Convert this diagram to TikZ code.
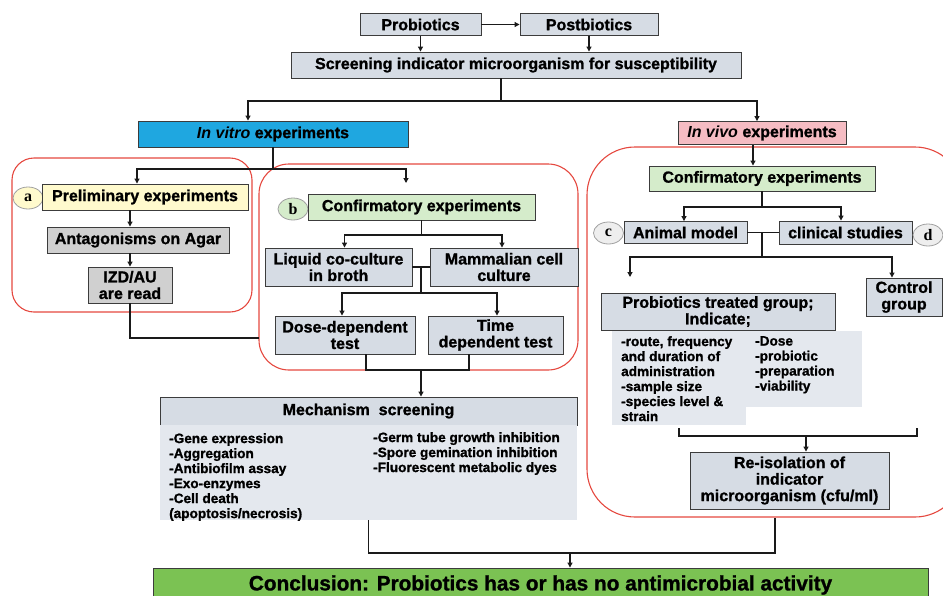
\documentclass[tikz,border=0pt]{standalone}
\usepackage{fontspec}
\setmainfont{Liberation Sans}[BoldFeatures={FakeBold=1.2}]
\newfontfamily\labfont{Liberation Serif}
\usetikzlibrary{shapes.geometric,arrows.meta}
\definecolor{boxgray}{HTML}{D6DCE4}
\definecolor{listgray}{HTML}{E4E8EE}
\definecolor{edgegray}{HTML}{3C3C3C}
\definecolor{linkgray}{HTML}{1A1A1A}
\definecolor{vitroblue}{HTML}{1FA7E0}
\definecolor{vivopink}{HTML}{F5BCC3}
\definecolor{confgreen}{HTML}{D5ECCB}
\definecolor{prelimyellow}{HTML}{FFFACD}
\definecolor{agargray}{HTML}{D0D0D0}
\definecolor{framered}{HTML}{E5483F}
\definecolor{conclgreen}{HTML}{7BC253}
\definecolor{taggray}{HTML}{A0A0A0}
\definecolor{tagfill}{HTML}{EEEEEE}
\tikzset{
  box/.style 2 args={draw=edgegray, line width=0.9pt, fill=boxgray, inner sep=0pt, align=center,
    minimum width=#1, minimum height=#2, font=\bfseries\fontsize{16}{16.5}\selectfont},
  grp/.style n args={3}{draw=framered, line width=1.1pt, rounded corners=#3, inner sep=0pt,
    minimum width=#1, minimum height=#2},
  tag/.style={ellipse, draw=taggray, line width=0.8pt, inner sep=0pt, minimum width=30,
    minimum height=22, font=\labfont\bfseries\fontsize{16}{16}\selectfont},
  pane/.style 2 args={fill=listgray, inner sep=0pt, minimum width=#1, minimum height=#2},
  lst/.style={anchor=north west, inner sep=0pt, align=left, font=\bfseries\fontsize{13.6}{15}\selectfont},
  link/.style={draw=linkgray, line width=1.1pt},
  arr/.style={link, -{Triangle[length=5pt,width=5pt]}},
}
\begin{document}
\begin{tikzpicture}[x=1pt,y=-1pt]
	\useasboundingbox (0,0) rectangle (943,595);
	\clip (0,0) rectangle (943,595);
	% frames
	\node[grp={240}{154}{22pt}] (FA) at (132,235) {};
	\node[grp={319}{206}{30pt}] (FB) at (418.5,267) {};
	\node[grp={376}{370}{48pt}] (FC) at (775,332) {};
	
	\node[box={121}{22}] (P) at (420.5,24.5) {Probiotics};
	\node[box={138}{22}] (PB) at (589,24.5) {Postbiotics};
	\node[box={450}{26}] (S) at (516,65) {Screening indicator microorganism for susceptibility};
	\node[box={270}{26}, fill=vitroblue] (vit) at (273,134) {\textit{In vitro} experiments};
	\node[box={168}{23}, fill=vivopink] (viv) at (762,133) {\textit{In vivo} experiments};
	
	\node[tag, fill=prelimyellow] (ta) at (28,198) {a};
	\node[box={206}{26}, fill=prelimyellow] (pre) at (145,197) {Preliminary experiments};
	\node[box={182}{26}, fill=agargray] (agar) at (138,240) {Antagonisms on Agar};
	\node[box={84}{36}, fill=agargray] (izd) at (130,285) {IZD/AU\\are read};
	
	\node[tag, fill=confgreen] (tb) at (293,209) {b};
	\node[box={227}{26}, fill=confgreen] (cb) at (421.5,207) {Confirmatory experiments};
	\node[box={147}{38}] (liq) at (338.5,267) {Liquid co-culture\\in broth};
	\node[box={148}{38}] (mam) at (504,267) {Mammalian cell\\culture};
	\node[box={140}{38}] (dose) at (345,335) {Dose-dependent\\test};
	\node[box={135}{38}] (time) at (495.5,335) {Time\\dependent test};
	
	\node[box={417}{28}] (mh) at (368.5,411) {Mechanism\ \ screening};
	\node[pane={417}{95}] (mb) at (368.5,472.5) {};
	\node[lst] (ml) at (169,433) {-Gene expression\\-Aggregation\\-Antibiofilm assay\\-Exo-enzymes\\-Cell death\\(apoptosis/necrosis)};
	\node[lst] (mr) at (373,432) {-Germ tube growth inhibition\\-Spore gemination inhibition\\-Fluorescent metabolic dyes};
	
	\node[box={226}{25}, fill=confgreen] (cc) at (762,178.5) {Confirmatory experiments};
	\node[tag, fill=tagfill] (tc) at (608.5,233) {c};
	\node[box={123}{22}] (ani) at (685.5,232.5) {Animal model};
	\node[box={133}{23}] (cli) at (845.5,232.5) {clinical studies};
	\node[tag, fill=tagfill] (td) at (928,235) {d};
	\node[box={76}{38}] (ctl) at (904,297) {Control\\group};
	\node[box={234}{37}] (trt) at (718,311.5) {Probiotics treated group;\\Indicate;};
	\node[pane={134}{94}] (trl) at (679,378) {};
	\node[pane={116}{76}] (trr) at (804,369) {};
	\node[lst] (tl) at (621,336) {-route, frequency\\and duration of\\administration\\-sample size\\-species level \&\\strain};
	\node[lst] (tr) at (755,336) {-Dose\\-probiotic\\-preparation\\-viability};
	\node[box={199}{57}] (rei) at (789.5,480.5) {Re-isolation of\\indicator\\microorganism (cfu/ml)};
	
	\node[box={775}{34}, fill=conclgreen, font=\bfseries\fontsize{20.8}{21}\selectfont] (con) at (540.5,585) {Conclusion: Probiotics has or has no antimicrobial activity};
	
	\coordinate (j1) at (501,101);
	\coordinate (j2) at (273,169);
	\coordinate (bEnd) at (406,183);
	\coordinate (izdEnd) at (259,338);
	\coordinate (j3) at (421.5,235);
	\coordinate (j4) at (421,293);
	\coordinate (j5) at (421,370);
	\coordinate (j6) at (762,207);
	\coordinate (j7) at (762,257);
	\coordinate (tEnd) at (630,277);
	\coordinate (brR) at (917,428);
	\coordinate (brM) at (806,436);
	\coordinate (j8) at (570,553);
	
	\draw[arr] (P) -- (PB);
	\draw[arr] (P.south) -- (P.south |- S.north);
	\draw[arr] (PB.south) -- (PB.south |- S.north);
	\draw[arr] (S.south -| j1) -- (j1) -| ([xshift=-25pt]vit.north);
	\draw[arr] (j1) -| ([xshift=-5pt]viv.north);
	\draw[arr] (vit.south) -- (j2) -| ([xshift=-8pt]pre.north);
	\draw[arr] (j2) -| (bEnd);
	\draw[arr] (pre.south -| izd) -- (agar.north -| izd);
	\draw[arr] (agar.south -| izd) -- (izd.north);
	\draw[link] (izd.south) |- (izdEnd);
	\draw[arr] (cb.south) -- (j3) -| ([xshift=6pt]liq.north);
	\draw[arr] (j3) -| ([xshift=-2pt]mam.north);
	\draw[link] (liq.east) -- (mam.west);
	\draw[arr] (liq.east -| j4) -- (j4) -| ([xshift=-3pt]dose.north);
	\draw[arr] (j4) -| ([xshift=1.5pt]time.north);
	\draw[link] ([xshift=21pt]dose.south) |- (j5) -| ([xshift=-26.5pt]time.south);
	\draw[arr] (j5) -- (j5 |- mh.north);
	\draw[arr] ([xshift=-9pt]viv.south) -- ([xshift=-9pt]cc.north);
	\draw[arr] (cc.south) -- (j6) -| ([xshift=-1.5pt]ani.north);
	\draw[arr] (j6) -| ([xshift=-4.5pt]cli.north);
	\draw[link] (ani.east) -- (cli.west);
	\draw[arr] (ani.east -| j7) -- (j7) -| (tEnd);
	\draw[arr] (j7) -| ([xshift=-12pt]ctl.north);
	\draw[link] ([yshift=-3pt]trl.south) |- (brM) -| (brR);
	\draw[arr] (brM) -- (rei.north -| brM);
	\draw[link] (mb.south) |- (j8) -| (FC.south);
	\draw[arr] (j8) -- (j8 |- con.north);
\end{tikzpicture}
\end{document}
